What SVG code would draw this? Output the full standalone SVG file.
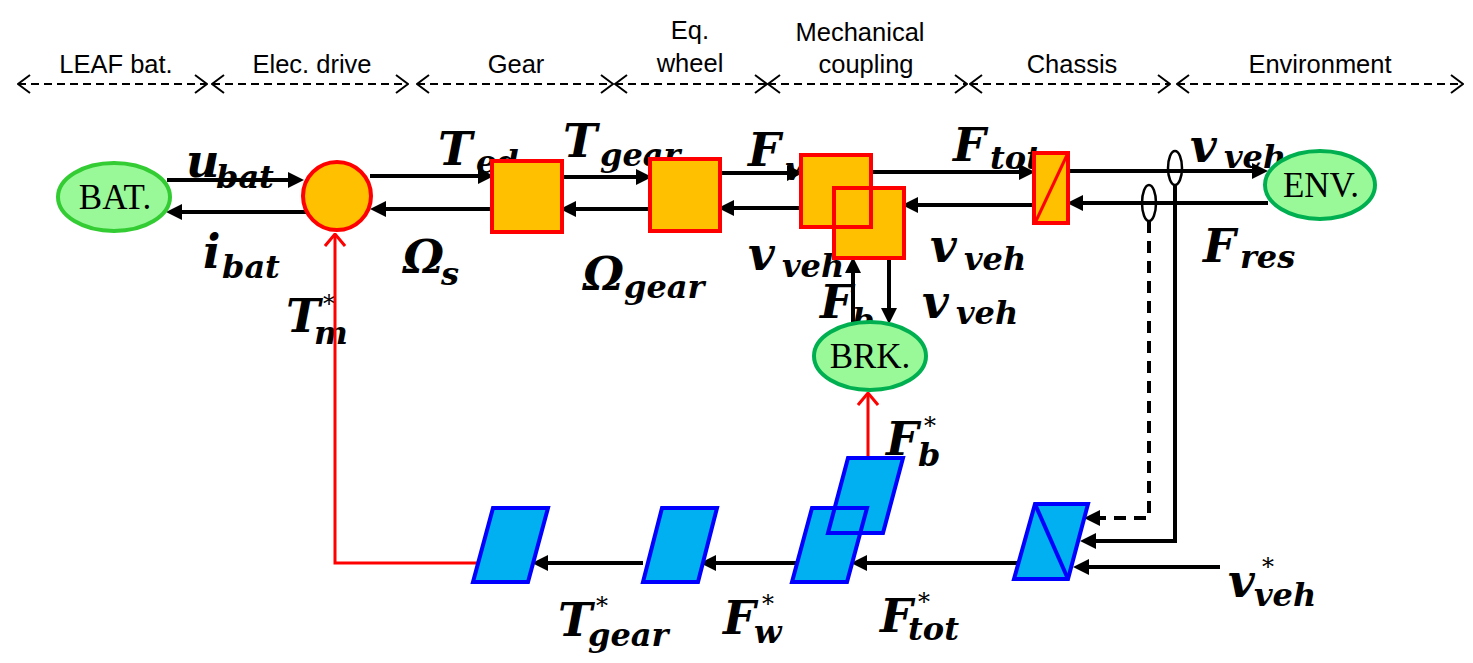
<svg xmlns="http://www.w3.org/2000/svg" width="1473" height="663" viewBox="0 0 1473 663">
<defs>
<style>
.hdr{font-family:"Liberation Sans",Arial,sans-serif;font-size:25.5px;fill:#000;text-anchor:middle}
.hl{stroke:#000;stroke-width:2;stroke-dasharray:8 5;fill:none;marker-start:url(#open);marker-end:url(#open)}
.lab{font-family:"DejaVu Serif",serif;font-weight:bold;font-style:italic;font-size:46px;fill:#000}
.sb{font-size:32px}
.st{font-style:normal;font-weight:normal;font-size:24px}
.ar{stroke:#000;stroke-width:4;fill:none;marker-end:url(#tri)}
.dash{stroke-dasharray:12 8}
.red{stroke:#f00;stroke-width:3;fill:none;marker-end:url(#ropen)}
.org{fill:#FFC000}
.ors{fill:none;stroke:#f00;stroke-width:4}
.blu{fill:#00B0F0}
.bls{fill:none;stroke:#00f;stroke-width:4}
.ell{fill:#99F999;stroke-width:4}
.nt{font-family:"Liberation Serif","Times New Roman",serif;font-size:35px;fill:#000;text-anchor:middle}
.oval{fill:none;stroke:#000;stroke-width:2.5}
</style>
<marker id="open" markerUnits="userSpaceOnUse" viewBox="0 0 14 20" refX="13" refY="10" markerWidth="14" markerHeight="20" orient="auto-start-reverse">
<path d="M1,1 L13,10 L1,19" fill="none" stroke="#000" stroke-width="2"/>
</marker>
<marker id="tri" markerUnits="userSpaceOnUse" viewBox="0 0 16 16" refX="4" refY="8" markerWidth="16" markerHeight="16" orient="auto">
<path d="M0,0 L16,8 L0,16 z" fill="#000"/>
</marker>
<marker id="ropen" markerUnits="userSpaceOnUse" viewBox="0 0 14 22" refX="13" refY="11" markerWidth="14" markerHeight="22" orient="auto">
<path d="M1,1 L13,11 L1,21" fill="none" stroke="#f00" stroke-width="3"/>
</marker>
</defs>
<rect width="1473" height="663" fill="#fff"/>

<g id="header">
<path class="hl" d="M18,84 H207"/>
<path class="hl" d="M212,84 H408"/>
<path class="hl" d="M417,84 H613"/>
<path class="hl" d="M615,84 H767"/>
<path class="hl" d="M768,84 H967"/>
<path class="hl" d="M970,84 H1170"/>
<path class="hl" d="M1177,84 H1463"/>
<text class="hdr" x="116" y="73">LEAF bat.</text>
<text class="hdr" x="312" y="73">Elec. drive</text>
<text class="hdr" x="516" y="73">Gear</text>
<text class="hdr" x="690" y="39">Eq.</text>
<text class="hdr" x="690" y="72">wheel</text>
<text class="hdr" x="860" y="41">Mechanical</text>
<text class="hdr" x="866" y="73">coupling</text>
<text class="hdr" x="1072" y="73">Chassis</text>
<text class="hdr" x="1320" y="73">Environment</text>
</g>

<g id="labels">
<text class="lab" x="186" y="177">u<tspan class="sb" x="216" y="188">bat</tspan></text>
<text class="lab" x="203" y="268">i<tspan class="sb" x="222" y="278">bat</tspan></text>
<text class="lab" x="403" y="273">Ω<tspan class="sb" x="441" y="285">s</tspan></text>
<text class="lab" x="286" y="332">T<tspan class="st" x="323" y="312">*</tspan><tspan class="sb" x="314" y="344">m</tspan></text>
<text class="lab" x="438" y="165">T<tspan class="sb" x="476" y="173">ed</tspan></text>
<text class="lab" x="563" y="157">T<tspan class="sb" x="600" y="166">gear</tspan></text>
<text class="lab" x="748" y="166">F<tspan class="sb" x="785" y="180">w</tspan></text>
<text class="lab" x="583" y="290">Ω<tspan class="sb" x="624" y="298">gear</tspan></text>
<text class="lab" x="748" y="270">v<tspan class="sb" x="782" y="277">veh</tspan></text>
<text class="lab" x="953" y="161">F<tspan class="sb" x="990" y="169">tot</tspan></text>
<text class="lab" x="930" y="262">v<tspan class="sb" x="964" y="270">veh</tspan></text>
<text class="lab" x="820" y="318">F<tspan class="sb" x="852" y="331">b</tspan></text>
<text class="lab" x="922" y="318">v<tspan class="sb" x="956" y="324">veh</tspan></text>
<text class="lab" x="1190" y="162">v<tspan class="sb" x="1224" y="168">veh</tspan></text>
<text class="lab" x="1203" y="262">F<tspan class="sb" x="1240" y="268">res</tspan></text>
<text class="lab" x="886" y="455">F<tspan class="st" x="924" y="434">*</tspan><tspan class="sb" x="918" y="466">b</tspan></text>
<text class="lab" x="558" y="636">T<tspan class="st" x="596" y="614">*</tspan><tspan class="sb" x="588" y="646">gear</tspan></text>
<text class="lab" x="723" y="634">F<tspan class="st" x="762" y="612">*</tspan><tspan class="sb" x="754" y="643">w</tspan></text>
<text class="lab" x="880" y="632">F<tspan class="st" x="918" y="610">*</tspan><tspan class="sb" x="908" y="640">tot</tspan></text>
<text class="lab" x="1228" y="597">v<tspan class="st" x="1262" y="575">*</tspan><tspan class="sb" x="1254" y="606">veh</tspan></text>
</g>

<g id="connectors">
<path class="ar" d="M167,180 H292"/>
<path class="ar" d="M306,212 H178"/>
<path class="ar" d="M370,176 H482"/>
<path class="ar" d="M492,209 H382"/>
<path class="ar" d="M562,177 H640"/>
<path class="ar" d="M650,209 H572"/>
<path class="ar" d="M720,173 H791"/>
<path class="ar" d="M801,208 H730"/>
<path class="ar" d="M871,172 H1023"/>
<path class="ar" d="M1034,205 H914"/>
<path class="ar" d="M1068,171 H1256"/>
<path class="ar" d="M1268,203 H1079"/>
<path class="ar" d="M853,322 V269"/>
<path class="ar" d="M889,258 V312"/>
<path class="ar" d="M1220,567 H1085"/>
<path class="ar" d="M1175,185 V541 H1092"/>
<path class="ar dash" d="M1149,221 V518 H1096"/>
<path class="ar" d="M1020,563 H863"/>
<path class="ar" d="M800,563 H712"/>
<path class="ar" d="M643,563 H544"/>
<path class="red" d="M477,563 H335 V234"/>
<path class="red" d="M868,458 V393"/>
<ellipse class="oval" cx="1175" cy="168" rx="7" ry="17" fill="#fff"/>
<ellipse class="oval" cx="1149" cy="203" rx="7" ry="18"/>
</g>

<g id="bat"><ellipse class="ell" cx="114" cy="197" rx="56" ry="34" stroke="#33CC33"/><text class="nt" x="115" y="209">BAT.</text></g>
<g id="drive"><circle cx="337" cy="196" r="34" class="org" stroke="#f00" stroke-width="4"/></g>
<g id="gear"><rect x="492" y="161" width="70" height="71" class="org" stroke="#f00" stroke-width="4"/></g>
<g id="wheel"><rect x="650" y="159" width="70" height="72" class="org" stroke="#f00" stroke-width="4"/></g>
<g id="coupling">
<rect x="801" y="155" width="70" height="72" class="org"/>
<rect x="834" y="188" width="70" height="70" class="org"/>
<rect x="801" y="155" width="70" height="72" class="ors"/>
<rect x="834" y="188" width="70" height="70" class="ors"/>
</g>
<g id="chassis"><rect x="1034" y="153" width="34" height="70" class="org" stroke="#f00" stroke-width="4"/><path d="M1036,221 L1067,155" stroke="#f00" stroke-width="3"/></g>
<g id="env"><ellipse class="ell" cx="1320" cy="185" rx="55" ry="34" stroke="#00B050"/><text class="nt" x="1321" y="197">ENV.</text></g>
<g id="brk"><ellipse class="ell" cx="870" cy="356" rx="56" ry="34" stroke="#00B050"/><text class="nt" x="870" y="368">BRK.</text></g>

<g id="ctrl-gear"><polygon points="493,508 548,508 528,582 473,582" class="blu" stroke="#00f" stroke-width="4"/></g>
<g id="ctrl-wheel"><polygon points="662,508 717,508 698,582 643,582" class="blu" stroke="#00f" stroke-width="4"/></g>
<g id="ctrl-coupling">
<polygon points="848,458 903,458 883,533 828,533" class="blu"/>
<polygon points="812,508 867,508 847,582 792,582" class="blu"/>
<polygon points="848,458 903,458 883,533 828,533" class="bls"/>
<polygon points="812,508 867,508 847,582 792,582" class="bls"/>
</g>
<g id="ctrl-chassis"><polygon points="1035,504 1088,504 1068,579 1014,579" class="blu" stroke="#00f" stroke-width="4"/><path d="M1035,504 L1068,579" stroke="#00f" stroke-width="4"/></g>
</svg>
